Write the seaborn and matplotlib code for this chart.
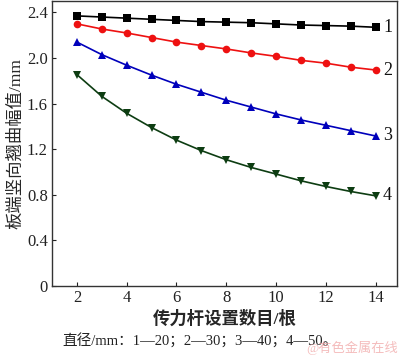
import numpy as np
import pandas as pd
import seaborn as sns
import matplotlib.pyplot as plt

# number of dowel bars
bars = [2, 3, 4, 5, 6, 7, 8, 9, 10, 11, 12, 13, 14]
# warp amplitude (mm) per dowel diameter
d20 = [2.37, 2.36, 2.35, 2.34, 2.33, 2.32, 2.315, 2.31, 2.30, 2.29, 2.285, 2.28, 2.27]
d30 = [2.30, 2.255, 2.22, 2.18, 2.14, 2.11, 2.08, 2.045, 2.015, 1.98, 1.955, 1.92, 1.895]
d40 = [2.14, 2.03, 1.937, 1.85, 1.77, 1.70, 1.63, 1.57, 1.51, 1.457, 1.41, 1.363, 1.316]
d50 = [1.855, 1.664, 1.515, 1.39, 1.28, 1.188, 1.108, 1.04, 0.982, 0.923, 0.873, 0.829, 0.791]
series = ['1', '2', '3', '4']
colors = ['#000000', '#ee1111', '#0000bb', '#0d3d12']
markers = ['s', 'o', '^', 'v']

df = pd.DataFrame({
    'n': bars * 4,
    'w': d20 + d30 + d40 + d50,
    's': [s for s in series for _ in bars],
})

sns.set_style('ticks')
serif = ['Liberation Serif', 'Noto Sans CJK SC']
plt.rcParams['font.family'] = serif

fig = plt.figure(figsize=(4.0, 3.57), dpi=100)
ax = fig.add_axes([0.13, 0.199, 0.862, 0.798])
sns.lineplot(data=df, x='n', y='w', hue='s', style='s', palette=colors,
             markers=markers, dashes=False, markersize=5.5, markeredgewidth=0,
             linewidth=1.2, legend=False, ax=ax)

for s, vals in zip(series, [d20, d30, d40, d50]):
    ax.text(14.3, vals[-1], s, fontsize=13, va='center', ha='left', color='#111111')

ax.set_xlim(1, 14.85)
ax.set_ylim(0, 2.5)
ax.set_xticks([2, 4, 6, 8, 10, 12, 14])
ax.set_yticks([0, 0.4, 0.8, 1.2, 1.6, 2.0, 2.4])
ax.set_yticklabels(['0', '0.4', '0.8', '1.2', '1.6', '2.0', '2.4'])
ax.tick_params(direction='in', length=3, width=0.8, labelsize=12, colors='#222222', pad=3)
for sp in ax.spines.values():
    sp.set_linewidth(1.0)
    sp.set_color('#333333')

ax.set_xlabel('传力杆设置数目/根', fontsize=12.5, family=serif, weight='semibold', labelpad=3)
ax.set_ylabel('板端竖向翘曲幅值/mm', fontsize=12.5, family=serif, labelpad=2)

fig.text(0.155, 0.045, '直径/mm：1—20；2—30；3—40；4—50。', fontsize=10.5,
         family=serif, ha='left', va='center', color='#222222')
fig.text(0.995, 0.025, '@有色金属在线', fontsize=9.5, family=serif, ha='right',
         va='center', color='#f0a0a0', alpha=0.7)

fig.savefig('out.png', dpi=100)
